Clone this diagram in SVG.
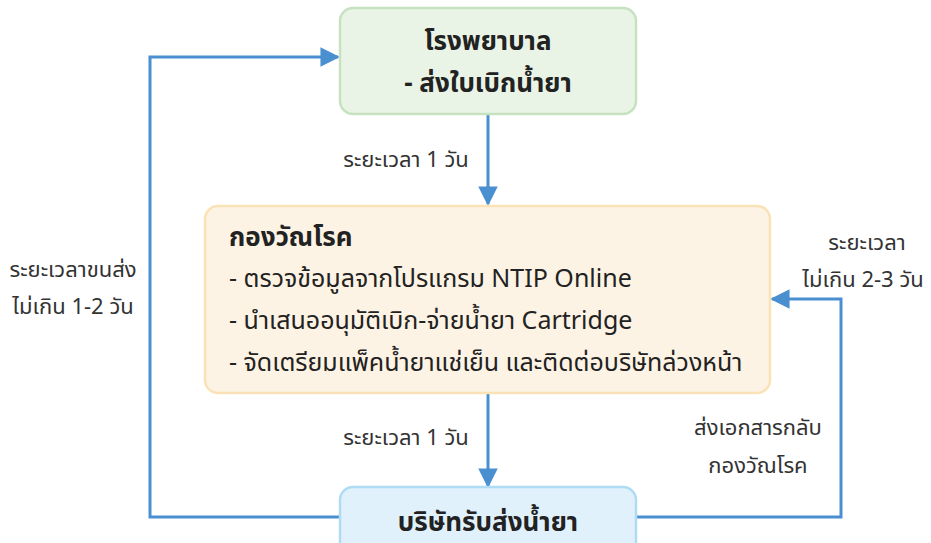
<svg xmlns="http://www.w3.org/2000/svg" width="931" height="543" viewBox="0 0 931 543">
<defs>
<style>
.t{font-family:"Noto Sans Thai","Noto Sans",sans-serif;fill:#222}
.b{font-weight:bold;font-size:26px}
.r{font-size:25px}
.l{font-size:22px;fill:#333}
.c{fill:none;stroke:#4a8fd0;stroke-width:3}
</style>
<marker id="ah" viewBox="0 0 10 10" refX="9" refY="5" markerWidth="6.5" markerHeight="6.5" markerUnits="strokeWidth" orient="auto">
<path d="M0,0 L10,5 L0,10 z" fill="#4a8fd0"/>
</marker>
</defs>
<rect width="931" height="543" fill="#fff"/>
<g id="connectors">
<path class="c" d="M488,114 V204" marker-end="url(#ah)"/>
<path class="c" d="M488,393 V486" marker-end="url(#ah)"/>
<path class="c" d="M340,517 H150 V57 H338" marker-end="url(#ah)"/>
<path class="c" d="M636,517 H841 V299 H772" marker-end="url(#ah)"/>
</g>
<g id="hospital">
<rect x="340" y="8" width="296" height="106" rx="13" fill="#e9f4e6" stroke="#c7e2c0" stroke-width="2.5"/>
<text class="t b" x="488" y="50" text-anchor="middle">โรงพยาบาล</text>
<text class="t b" x="488" y="92" text-anchor="middle">- ส่งใบเบิกน้ำยา</text>
</g>
<g id="tb-division">
<rect x="205" y="206" width="565" height="187" rx="13" fill="#fdf3e4" stroke="#fbe2b6" stroke-width="2.5"/>
<text class="t b" x="229" y="246">กองวัณโรค</text>
<text class="t r" x="229" y="287">- ตรวจข้อมูลจากโปรแกรม NTIP Online</text>
<text class="t r" x="229" y="329">- นำเสนออนุมัติเบิก-จ่ายน้ำยา Cartridge</text>
<text class="t r" x="229" y="371">- จัดเตรียมแพ็คน้ำยาแช่เย็น และติดต่อบริษัทล่วงหน้า</text>
</g>
<g id="company">
<rect x="340" y="487" width="296" height="70" rx="13" fill="#e0f1fb" stroke="#afdcf5" stroke-width="2.5"/>
<text class="t b" x="488" y="531" text-anchor="middle">บริษัทรับส่งน้ำยา</text>
</g>
<g id="labels">
<text class="t l" x="406" y="167" text-anchor="middle">ระยะเวลา 1 วัน</text>
<text class="t l" x="406" y="445" text-anchor="middle">ระยะเวลา 1 วัน</text>
<text class="t l" x="73" y="277" text-anchor="middle">ระยะเวลาขนส่ง</text>
<text class="t l" x="73" y="314" text-anchor="middle">ไม่เกิน 1-2 วัน</text>
<text class="t l" x="867" y="250" text-anchor="middle">ระยะเวลา</text>
<text class="t l" x="863" y="287" text-anchor="middle">ไม่เกิน 2-3 วัน</text>
<text class="t l" x="758" y="435" text-anchor="middle">ส่งเอกสารกลับ</text>
<text class="t l" x="758" y="473" text-anchor="middle">กองวัณโรค</text>
</g>
</svg>
